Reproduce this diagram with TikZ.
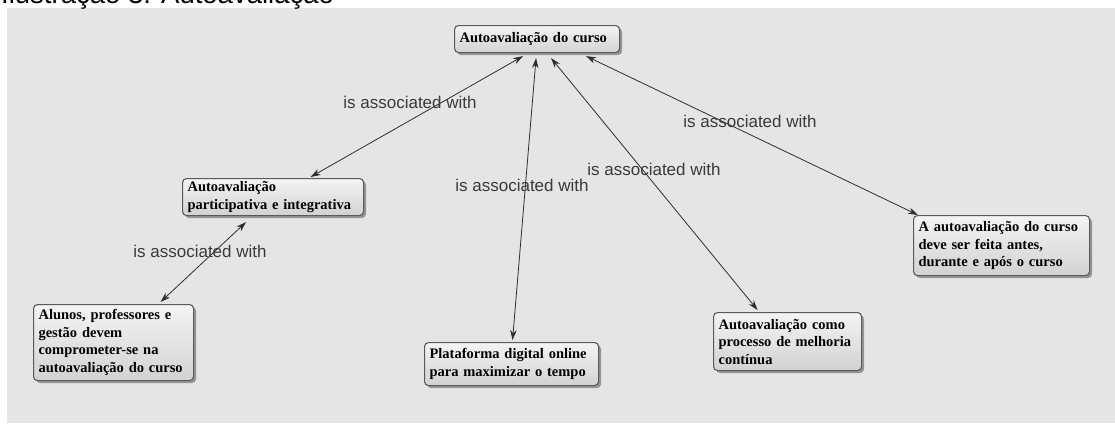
\documentclass[tikz,border=0pt]{standalone}
\usepackage{fontspec}
\setmainfont{Liberation Serif}
\newfontfamily\labelfont{Liberation Sans}
\usetikzlibrary{shadows,arrows.meta,calc}
\definecolor{bg}{HTML}{E5E5E5}
\definecolor{boxborder}{HTML}{5A5A5A}
\definecolor{boxtop}{HTML}{F4F4F4}
\definecolor{boxbot}{HTML}{D2D2D2}
\definecolor{linkcol}{HTML}{2E2E2E}
\definecolor{lblcol}{HTML}{3A3A3A}
\begin{document}
\begin{tikzpicture}[x=1pt,y=-1pt,
  concept/.style={draw=boxborder, line width=1.1pt, rounded corners=4pt,
    top color=boxtop, bottom color=boxbot,
    drop shadow={shadow xshift=2.5pt, shadow yshift=-2.5pt, fill=black, opacity=0.35},
    anchor=north west, align=left, inner xsep=5pt, inner ysep=3pt,
    font=\fontsize{14.5}{17.5}\selectfont\bfseries, text=black},
  link/.style={draw=linkcol, line width=0.8pt,
    {Stealth[length=10pt,width=6.5pt]}-{Stealth[length=10pt,width=6.5pt]}},
  lbl/.style={font=\labelfont\fontsize{17}{20}\selectfont, text=lblcol, inner sep=0pt}]
\useasboundingbox (0,0) rectangle (1115,423);
\fill[bg] (7,8) rectangle (1115,423);
\node[font=\labelfont\fontsize{27.5}{30}\selectfont, anchor=base west, inner sep=0pt] (cap) at (1,4) {Ilustração 3: Autoavaliação};

\node[concept, minimum width=165pt, text width=155pt, minimum height=27pt] (top) at (454,25) {Autoavaliação do curso};
\node[concept, minimum width=181pt, text width=171pt, minimum height=37pt] (n2) at (182,178) {Autoavaliação\\participativa e integrativa};
\node[concept, minimum width=160pt, text width=150pt, minimum height=76pt] (n3) at (33,304) {Alunos, professores e\\gestão devem\\comprometer-se na\\autoavaliação do curso};
\node[concept, minimum width=174pt, text width=164pt, minimum height=43pt] (n4) at (424,342) {Plataforma digital online\\para maximizar o tempo};
\node[concept, minimum width=148pt, text width=138pt, minimum height=58pt] (n5) at (713,312) {Autoavaliação como\\processo de melhoria\\contínua};
\node[concept, minimum width=176pt, text width=166pt, minimum height=60pt] (n6) at (913,215) {A autoavaliação do curso\\deve ser feita antes,\\durante e após o curso};

\draw[link] ([xshift=-14pt,yshift=-3pt]top.south) -- ([xshift=37.5pt,yshift=1pt]n2.north);
\draw[link] ([xshift=-27pt,yshift=-6pt]n2.south) -- ([xshift=47pt,yshift=2pt]n3.north);
\draw[link] ([xshift=-1pt,yshift=-5pt]top.south) -- ([xshift=1pt,yshift=2pt]n4.north);
\draw[link] ([xshift=14pt,yshift=-5pt]top.south) -- ([xshift=-30pt,yshift=2pt]n5.north);
\draw[link] ([xshift=49pt,yshift=-3pt]top.south) -- ([xshift=5pt]n6.north west);

\node[lbl] (l1) at (410,102) {is associated with};
\node[lbl] (l2) at (200,251) {is associated with};
\node[lbl] (l3) at (522,185) {is associated with};
\node[lbl] (l4) at (654,169) {is associated with};
\node[lbl] (l5) at (750,121) {is associated with};
\end{tikzpicture}
\end{document}
